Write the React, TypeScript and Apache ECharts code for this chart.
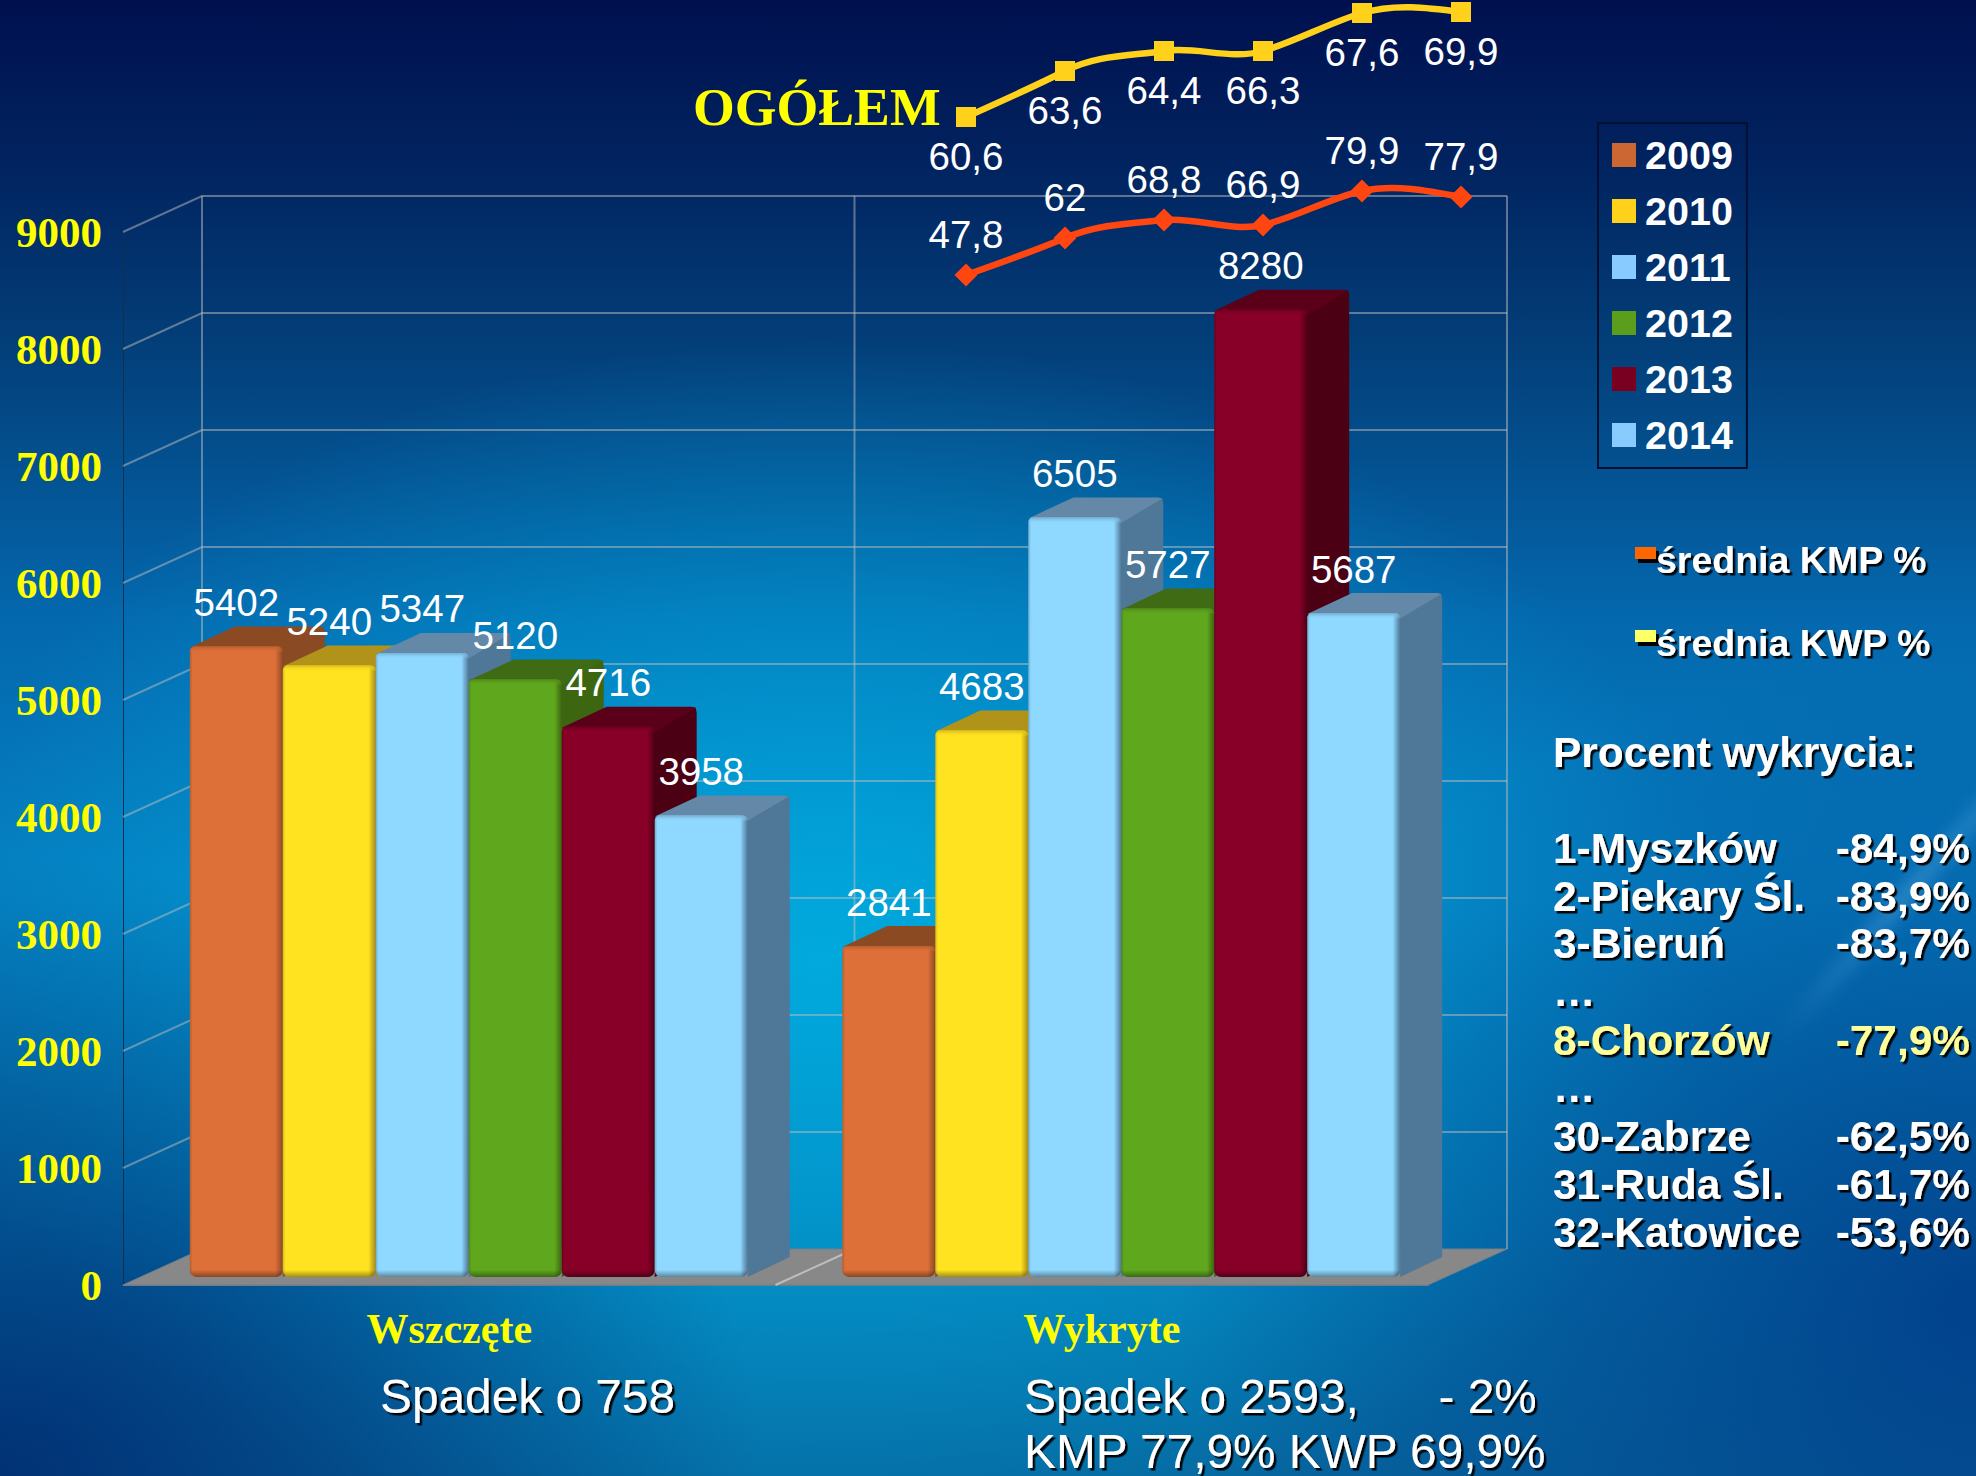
import React, { useEffect, useRef } from "react";
import * as echarts from "echarts";

const categories = ["Wszczęte", "Wykryte"];
const years = ["2009", "2010", "2011", "2012", "2013", "2014"];
const values2009 = [5402, 2841];
const values2010 = [5240, 4683];
const values2011 = [5347, 6505];
const values2012 = [5120, 5727];
const values2013 = [4716, 8280];
const values2014 = [3958, 5687];
const yearValues = [values2009, values2010, values2011, values2012, values2013, values2014];
const yTicks = [0, 1000, 2000, 3000, 4000, 5000, 6000, 7000, 8000, 9000];

const frontColors = ["#DD6F38", "#FFE320", "#8FD8FF", "#5FA81E", "#880028", "#8FD8FF"];
const sideColors = ["#8A4A24", "#A68B14", "#4F7898", "#3D6610", "#4C0014", "#4F7898"];
const topColors = ["#8B4A22", "#B09318", "#6488A8", "#3E6B14", "#5A0018", "#6488A8"];
const legendColors = ["#CC6633", "#FFD11A", "#88CCFF", "#5B9E1B", "#7A0022", "#88CCFF"];

const lineSteps = ["1", "2", "3", "4", "5", "6"];
const kmpName = "średnia KMP %";
const kwpName = "średnia KWP %";
const kmpLabels = ["47,8", "62", "68,8", "66,9", "79,9", "77,9"];
const kwpLabels = ["60,6", "63,6", "64,4", "66,3", "67,6", "69,9"];
// Heights of the two lines as drawn in the picture (they do not follow the printed percentages)
const kmpLevels = [25, 62, 80, 75, 109, 103];
const kwpLevels = [183, 229, 249, 249, 287, 288];

const heading = "Procent wykrycia:";
const rankNames = ["1-Myszków", "2-Piekary Śl.", "3-Bieruń", "…", "8-Chorzów", "…", "30-Zabrze", "31-Ruda Śl.", "32-Katowice"];
const rankValues = ["-84,9%", "-83,9%", "-83,7%", "", "-77,9%", "", "-62,5%", "-61,7%", "-53,6%"];
const rankRowsY = [848, 896, 943, 991, 1040, 1087, 1136, 1184, 1232];

const SANS = '"Liberation Sans"';
const SERIF = '"Liberation Serif"';
const DEPTH_X = 79;
const DEPTH_Y = 36;

function wallItem(params: any, api: any) {
  const cs = params.coordSys;
  const p = api.coord([0, api.value(1)]);
  const children: any[] = [];
  const gridStyle = { stroke: "rgba(190,190,190,0.5)", lineWidth: 2, fill: "none" };
  const y = p[1];
  const x0 = cs.x;
  const x1 = cs.x + cs.width;
  if (api.value(1) === 0) {
    children.push({
      type: "polygon",
      shape: { points: [[x0, y], [x1, y], [x1 + DEPTH_X, y - DEPTH_Y], [x0 + DEPTH_X, y - DEPTH_Y]] },
      style: { fill: "#888888", stroke: "#6f7f8c", lineWidth: 1 },
    });
    const mid = x0 + cs.width / 2;
    children.push({
      type: "line",
      shape: { x1: mid, y1: y, x2: mid + DEPTH_X, y2: y - DEPTH_Y },
      style: { stroke: "#bdbdbd", lineWidth: 2 },
    });
    const top = cs.y - DEPTH_Y;
    [x0 + DEPTH_X, mid + DEPTH_X, x1 + DEPTH_X].forEach((vx) => {
      children.push({ type: "line", shape: { x1: vx, y1: top, x2: vx, y2: y - DEPTH_Y }, style: gridStyle });
    });
  } else {
    children.push({
      type: "polyline",
      shape: { points: [[x0, y], [x0 + DEPTH_X, y - DEPTH_Y], [x1 + DEPTH_X, y - DEPTH_Y]] },
      style: gridStyle,
    });
  }
  return { type: "group", children };
}

function makeBarItem(idx: number) {
  return (params: any, api: any) => {
    const v = api.value(1);
    const c = api.coord([api.value(0), v]);
    const base = api.coord([api.value(0), 0]);
    const band = api.size([1, 0])[0];
    const pitch = band * 0.1425;
    const x0 = c[0] + 19.5 + (idx - 3) * pitch;
    const w = pitch;
    const x1 = x0 + w;
    const yBottom = base[1] - 8;
    const yTop = c[1] - 6.5;
    const dx = 42;
    const dy = 20;
    const front = frontColors[idx];
    const edge = sideColors[idx];
    const soft = echarts.color.lerp(0.45, [front, edge]);
    return {
      type: "group",
      children: [
        {
          type: "polygon",
          shape: {
            points: [
              [x1 - 2, yTop],
              [x1 + dx - 6, yTop - dy],
              [x1 + dx - 1, yTop - dy + 1],
              [x1 + dx, yTop - dy + 6],
              [x1 + dx, yBottom - dy],
              [x1, yBottom],
            ],
          },
          style: { fill: edge },
        },
        {
          type: "polygon",
          shape: {
            points: [
              [x0, yTop + 1],
              [x0 + dx + 3, yTop - dy],
              [x1 + dx - 6, yTop - dy],
              [x1 + dx - 1, yTop - dy + 1],
              [x1 - 1, yTop + 6],
            ],
          },
          style: { fill: topColors[idx] },
        },
        {
          type: "rect",
          shape: { x: x0, y: yTop, width: w, height: yBottom - yTop, r: [5, 5, 7, 7] },
          style: {
            fill: new echarts.graphic.LinearGradient(0, 0, 1, 0, [
              { offset: 0, color: soft },
              { offset: 0.03, color: front },
              { offset: 0.92, color: front },
              { offset: 1, color: edge },
            ]),
          },
        },
        {
          type: "rect",
          shape: { x: x0, y: yTop, width: w, height: 6, r: [5, 5, 0, 0] },
          style: {
            fill: new echarts.graphic.LinearGradient(0, 0, 0, 1, [
              { offset: 0, color: soft },
              { offset: 1, color: echarts.color.modifyAlpha(front, 0) },
            ]),
          },
        },
        {
          type: "rect",
          shape: { x: x0, y: yBottom - 7, width: w, height: 7, r: [0, 0, 7, 7] },
          style: {
            fill: new echarts.graphic.LinearGradient(0, 0, 0, 1, [
              { offset: 0, color: "rgba(0,0,0,0)" },
              { offset: 1, color: "rgba(0,0,0,0.38)" },
            ]),
          },
        },
        {
          type: "text",
          z2: 50,
          style: {
            text: String(v),
            x: x0 + w / 2,
            y: yTop - 44,
            fill: "#ffffff",
            font: `38.5px ${SANS}`,
            textAlign: "center",
            textVerticalAlign: "middle",
          },
        },
      ],
    };
  };
}

function makeCurveItem(levels: number[], color: string) {
  return (params: any, api: any) => {
    const i = params.dataIndex;
    if (i >= levels.length - 1) return { type: "group", children: [] };
    const pt = (k: number) => api.coord([k, levels[k]]);
    const p1 = pt(i);
    const p2 = pt(i + 1);
    const t = 0.25;
    let c1: number[] | null = null;
    let c2: number[] | null = null;
    if (i > 0) {
      const p0 = pt(i - 1);
      c1 = [p1[0] + (p2[0] - p0[0]) * t * 0.66, p1[1] + (p2[1] - p0[1]) * t];
    }
    if (i < levels.length - 2) {
      const p3 = pt(i + 2);
      c2 = [p2[0] - (p3[0] - p1[0]) * t * 0.66, p2[1] - (p3[1] - p1[1]) * t];
    }
    if (!c1 && c2) c1 = [p1[0] + (c2[0] - p1[0]) * 0.5, p1[1] + (c2[1] - p1[1]) * 0.5];
    if (!c2 && c1) c2 = [p2[0] + (c1[0] - p2[0]) * 0.5, p2[1] + (c1[1] - p2[1]) * 0.5];
    return {
      type: "bezierCurve",
      shape: { x1: p1[0], y1: p1[1], cpx1: c1![0], cpy1: c1![1], cpx2: c2![0], cpy2: c2![1], x2: p2[0], y2: p2[1] },
      style: { stroke: color, lineWidth: 6.5, fill: "none", lineCap: "round" },
    };
  };
}

const shadow = { textShadowColor: "rgba(0,0,0,0.95)", textShadowBlur: 1, textShadowOffsetX: 2.5, textShadowOffsetY: 2.5 };

function txt(text: string, x: number, y: number, fill: string, font: string, extra: any = {}) {
  return { type: "text", z: 20, style: { text, x, y, fill, font, textVerticalAlign: "middle", ...extra } };
}

function buildGraphics() {
  const rank = `bold 42.4px ${SANS}`;
  const els: any[] = [
    txt("OGÓŁEM", 693, 107, "#FFFF00", `bold 53.7px ${SERIF}`),
    txt("Spadek o 758", 380, 1396, "#ffffff", `47.8px ${SANS}`, shadow),
    txt("Spadek o 2593,      - 2%", 1024, 1396, "#ffffff", `47.8px ${SANS}`, shadow),
    txt("KMP 77,9% KWP 69,9%", 1024, 1451, "#ffffff", `47.8px ${SANS}`, shadow),
    txt(heading, 1553, 752, "#ffffff", rank, shadow),
  ];
  rankNames.forEach((name, i) => {
    const fill = name.startsWith("8-") ? "#FFFF99" : "#ffffff";
    els.push(txt(name, 1553, rankRowsY[i], fill, rank, shadow));
    if (rankValues[i]) els.push(txt(rankValues[i], 1970, rankRowsY[i], fill, rank, { ...shadow, textAlign: "right" }));
  });
  return els;
}

export default function App() {
  const ref = useRef<HTMLDivElement>(null);
  useEffect(() => {
    document.body.style.margin = "0";
    const chart = echarts.init(ref.current!, undefined, { renderer: "svg" });
    const barSeries = years.map((name, i) => ({
      type: "custom",
      name,
      xAxisIndex: 0,
      yAxisIndex: 0,
      z: 3,
      clip: false,
      itemStyle: { color: legendColors[i] },
      encode: { x: 0, y: 1 },
      data: yearValues[i].map((v, k) => [k, v]),
      renderItem: makeBarItem(i),
    }));
    const curve = (levels: number[], color: string) => ({
      type: "custom",
      name: "curve",
      xAxisIndex: 1,
      yAxisIndex: 1,
      z: 4,
      clip: false,
      silent: true,
      encode: { x: 0, y: 1 },
      data: levels.map((v, k) => [k, v]),
      renderItem: makeCurveItem(levels, color),
    });
    chart.setOption({
      animation: false,
      backgroundColor: "transparent",
      grid: [
        { left: 123, top: 232, width: 1305, height: 1053 },
        { left: 916.5, top: 0, width: 594, height: 300 },
      ],
      xAxis: [
        {
          type: "category",
          gridIndex: 0,
          data: categories,
          axisTick: { show: false },
          axisLine: { show: true, lineStyle: { color: "#6f7f8c", width: 1 } },
          axisLabel: { color: "#FFFF00", fontFamily: "Liberation Serif", fontWeight: "bold", fontSize: 42, margin: 23 },
        },
        { type: "category", gridIndex: 1, data: lineSteps, show: false },
      ],
      yAxis: [
        {
          type: "value",
          gridIndex: 0,
          min: 0,
          max: 9000,
          interval: 1000,
          splitLine: { show: false },
          axisTick: { show: false },
          axisLine: { show: true, lineStyle: { color: "#10304f", width: 1 } },
          axisLabel: {
            color: "#FFFF00",
            fontFamily: "Liberation Serif",
            fontWeight: "bold",
            fontSize: 43,
            margin: 21,
            formatter: (v: number) => String(v),
          },
        },
        { type: "value", gridIndex: 1, min: 0, max: 300, show: false },
      ],
      legend: [
        {
          data: years,
          orient: "vertical",
          left: 1598,
          top: 123,
          padding: [12, 14, 13, 14],
          icon: "rect",
          itemWidth: 24,
          itemHeight: 24,
          itemGap: 16,
          selectedMode: false,
          borderColor: "#001030",
          borderWidth: 2,
          formatter: (n: string) => `{a|${n}}`,
          textStyle: {
            rich: {
              a: { color: "#ffffff", fontFamily: "Liberation Sans", fontWeight: "bold", fontSize: 39.5, padding: [0, 0, 0, 4] },
            },
          },
        },
        {
          data: [
            { name: kmpName, icon: "rect", itemStyle: { color: "#FF6600", shadowColor: "#000", shadowOffsetX: 3, shadowOffsetY: 4, shadowBlur: 0 } },
            { name: kwpName, icon: "rect", itemStyle: { color: "#FFFF66", shadowColor: "#000", shadowOffsetX: 3, shadowOffsetY: 4, shadowBlur: 0 } },
          ],
          orient: "vertical",
          left: 1635,
          top: 541,
          padding: 0,
          itemWidth: 21,
          itemHeight: 12,
          itemGap: 45,
          selectedMode: false,
          formatter: (n: string) => `{a|${n}}`,
          textStyle: {
            rich: {
              a: {
                color: "#ffffff",
                fontFamily: "Liberation Sans",
                fontWeight: "bold",
                fontSize: 37.5,
                padding: [14, 0, 0, -5],
                ...shadow,
              },
            },
          },
        },
      ],
      series: [
        {
          type: "custom",
          name: "grid",
          xAxisIndex: 0,
          yAxisIndex: 0,
          z: 1,
          clip: false,
          silent: true,
          encode: { x: 0, y: 1 },
          data: yTicks.map((t) => [0, t]),
          renderItem: wallItem,
        },
        ...barSeries,
        curve(kwpLevels, "#FFD11A"),
        curve(kmpLevels, "#FF4510"),
        {
          type: "line",
          name: kwpName,
          xAxisIndex: 1,
          yAxisIndex: 1,
          z: 5,
          data: kwpLevels,
          symbol: "rect",
          symbolSize: 20,
          clip: false,
          itemStyle: { color: "#FFD11A" },
          lineStyle: { opacity: 0 },
          label: {
            show: true,
            position: "bottom",
            distance: 10,
            color: "#ffffff",
            fontFamily: "Liberation Sans",
            fontSize: 38.5,
            formatter: (p: any) => kwpLabels[p.dataIndex],
          },
        },
        {
          type: "line",
          name: kmpName,
          xAxisIndex: 1,
          yAxisIndex: 1,
          z: 5,
          data: kmpLevels,
          symbol: "diamond",
          symbolSize: 23,
          clip: false,
          itemStyle: { color: "#FF4510" },
          lineStyle: { opacity: 0 },
          label: {
            show: true,
            position: "top",
            distance: 10,
            color: "#ffffff",
            fontFamily: "Liberation Sans",
            fontSize: 38.5,
            formatter: (p: any) => kmpLabels[p.dataIndex],
          },
        },
      ],
      graphic: { elements: buildGraphics() },
    });
    return () => chart.dispose();
  }, []);
  return (
    <div
      style={{
        position: "absolute",
        left: 0,
        top: 0,
        width: 1976,
        height: 1476,
        overflow: "hidden",
        background: [
          "radial-gradient(ellipse 760px 620px at 0px 1476px, rgba(0,40,110,0.85), rgba(0,40,110,0) 100%)",
          "radial-gradient(ellipse 800px 640px at 1976px 1300px, rgba(0,50,130,0.75), rgba(0,50,130,0) 100%)",
          "radial-gradient(ellipse 900px 620px at 820px 960px, rgba(0,175,225,0.88), rgba(0,170,225,0) 100%)",
          "linear-gradient(180deg, #00104f 0px, #01235f 160px, #033e78 340px, #0468ae 620px, #0580c2 900px, #057ab4 1200px, #06679f 1476px)",
        ].join(","),
      }}
    >
      <div
        style={{
          position: "absolute",
          left: 1726,
          top: 908,
          width: 320,
          height: 20,
          transform: "rotate(-48.6deg)",
          filter: "blur(7px)",
          background: "linear-gradient(90deg, rgba(110,185,240,0), rgba(110,185,240,0.3) 60%, rgba(110,185,240,0.18))",
        }}
      />
      <div ref={ref} style={{ position: "absolute", left: 0, top: 0, width: 1976, height: 1476 }} />
    </div>
  );
}
